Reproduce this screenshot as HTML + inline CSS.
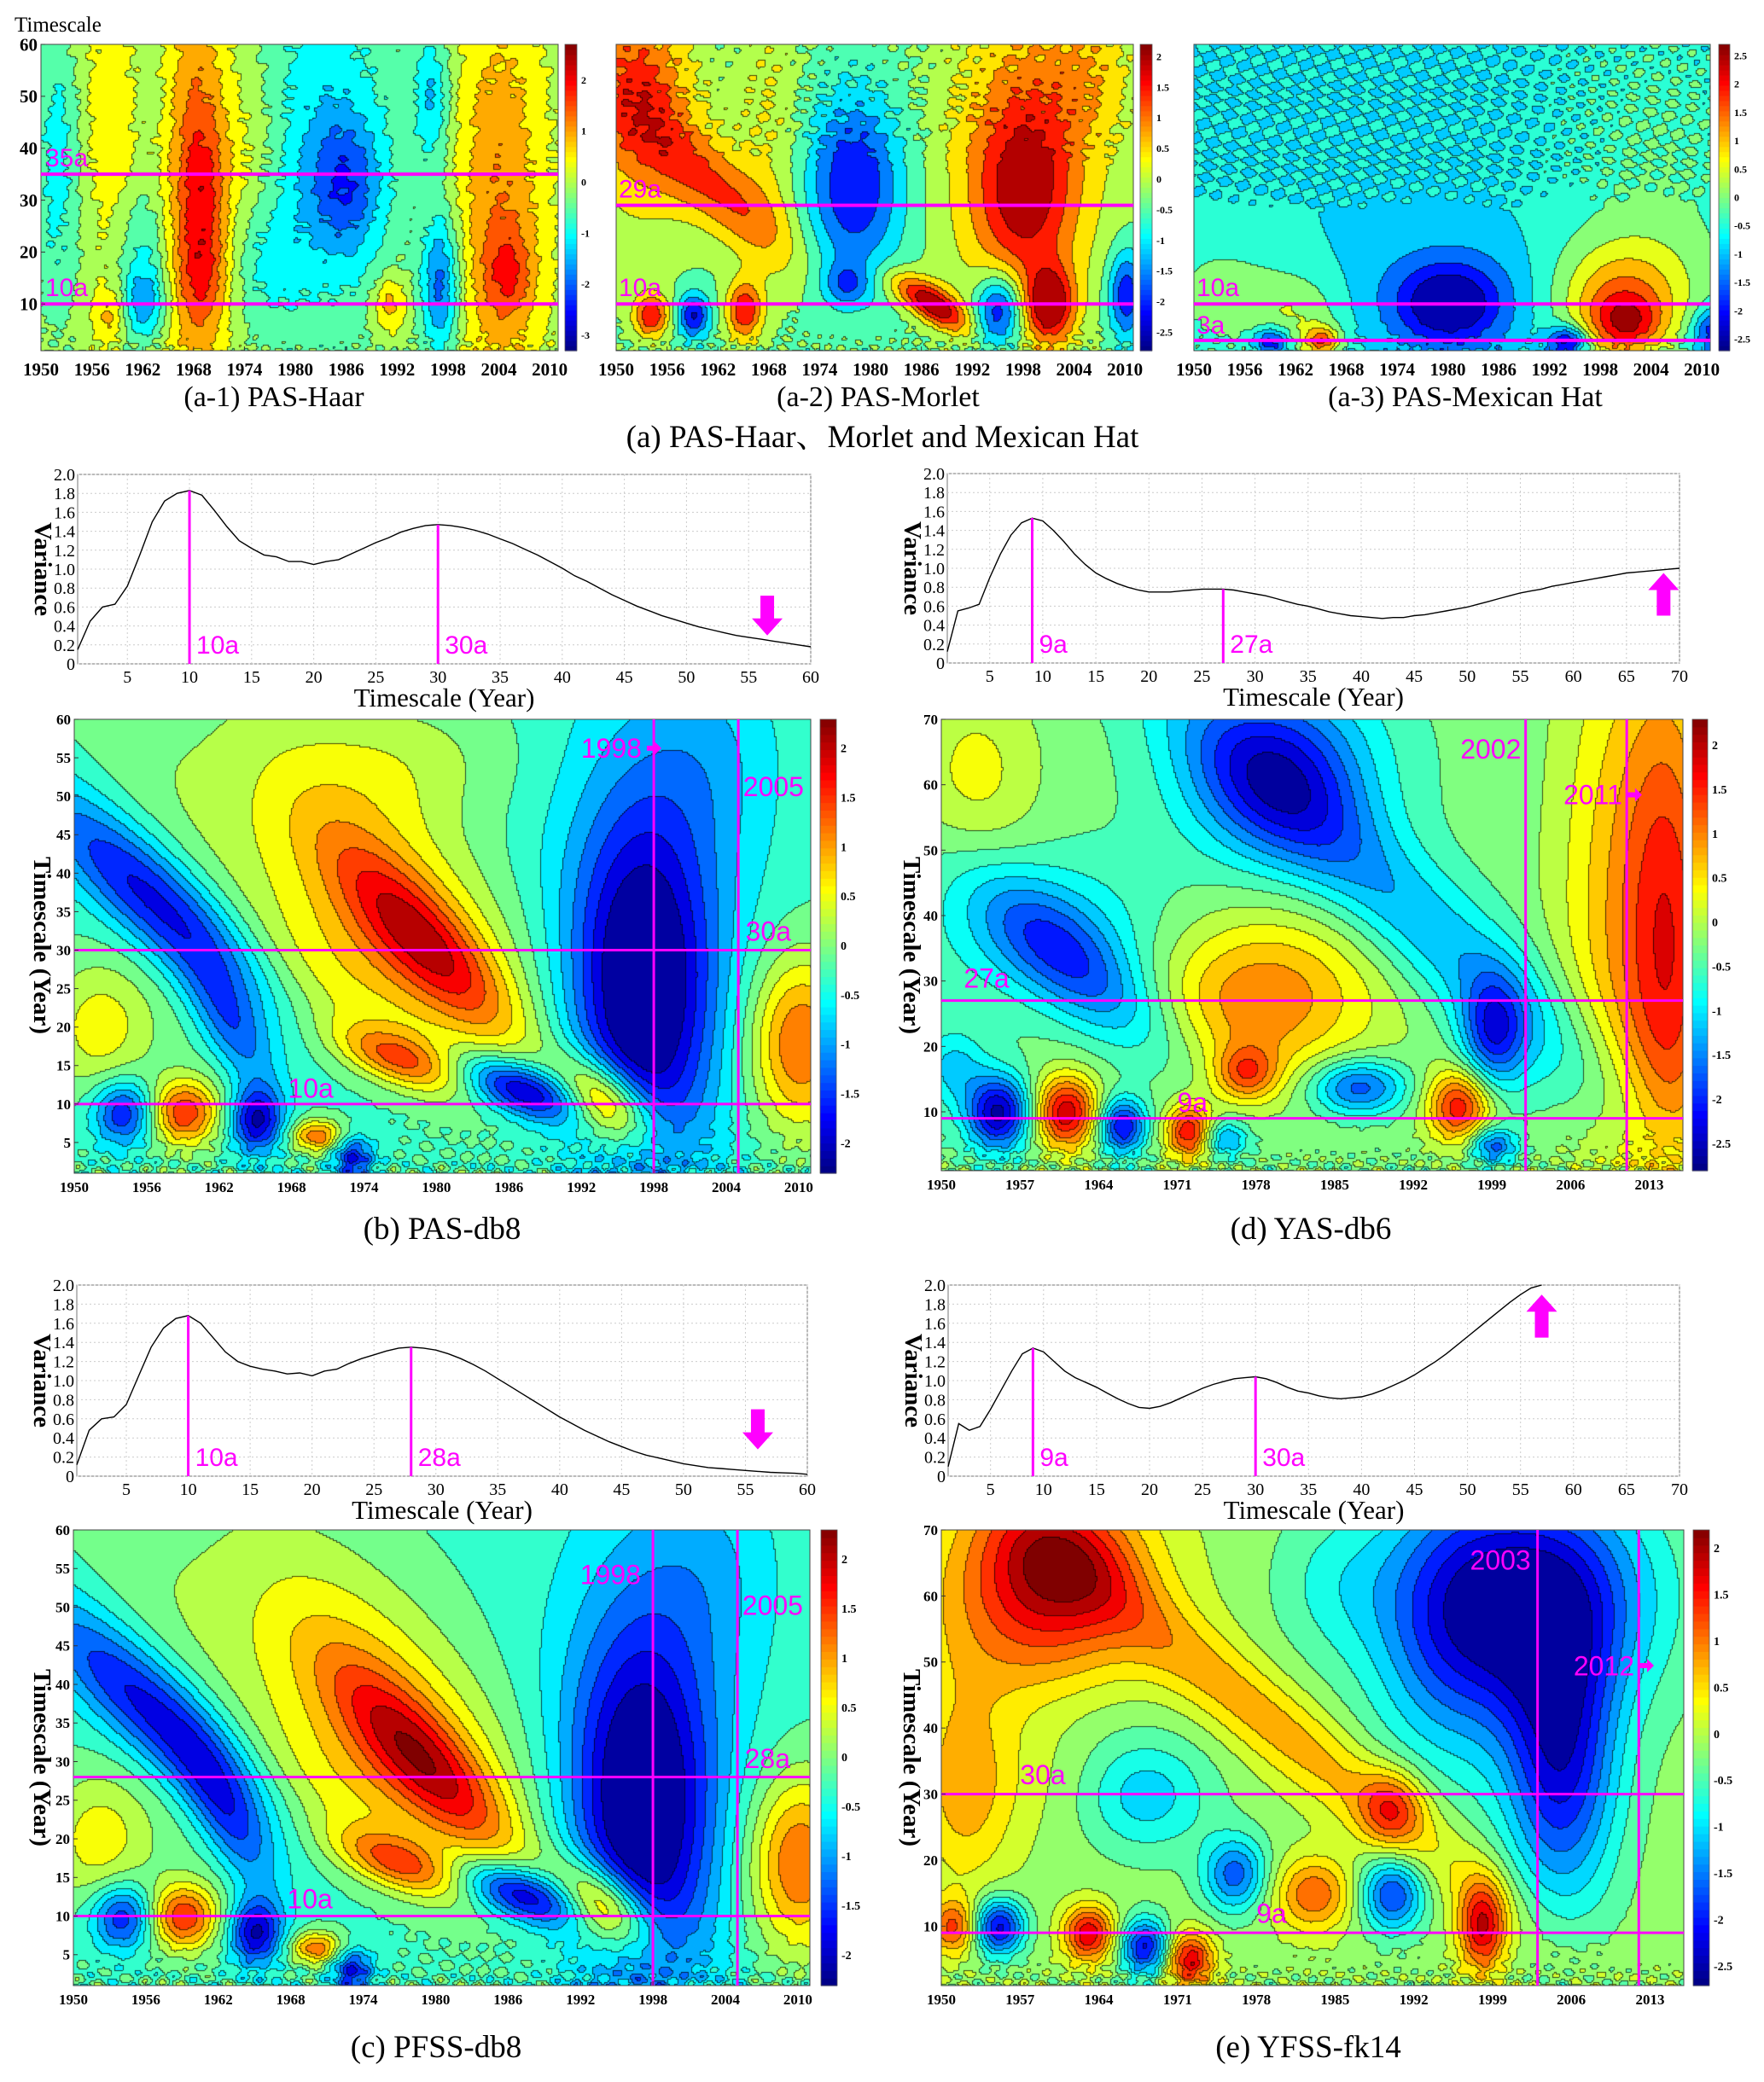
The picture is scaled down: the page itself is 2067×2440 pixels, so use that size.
<!DOCTYPE html>
<html><head><meta charset="utf-8">
<style>
html,body{margin:0;padding:0;background:#fff;}
#wrap{position:relative;width:2067px;height:2440px;overflow:hidden;background:#fff;}
canvas{position:absolute;display:block;}
svg{position:absolute;left:0;top:0;}
</style></head>
<body>
<div id="wrap">
<svg id="svg" width="2067" height="2440"></svg>
</div>
<script>
// ---------- DATA ----------
// blobs: [year, scale, sigmaYear, sigmaScale, amplitude, shear(year per scale)]
const blobsA1=[[1968,35,3,40,1.3,0],[1969,30,2,13,1.0,0],[1969,15,2,6,0.6,0],[1986,33,3,9,-1.3,0],[1983,40,6,25,-1.1,0],[1997,14,1.6,10,-1.9,0],[1996,50,1.5,9,-1.2,0],[2004,30,4,30,1.3,0],[2005,16,2,6,1.0,0],[1958,45,3,20,0.7,0],[1952,30,2,14,-0.8,0],[1962,10,2,5,-1.5,0],[1958,8,1.5,4,1.0,0],[1991,10,1.5,4,1.2,0],[1975,35,3,15,0.7,0],[1962,22,2,8,-0.9,0],[1976,20,3,10,-0.8,0],[1952,50,2,10,-0.5,0],[1963,50,2,10,-0.3,0]];
const blobsA2=[[1953,45,5,15,1.2,0],[1962,32,4,10,1.5,-0.5],[1978,33,4,12,-1.9,0],[1998,32,4,12,1.5,0],[1998,40,7,25,1.2,0],[2001,10,2,5,2.3,0],[1995,9,2,5,-2.2,0],[1954,8,1.5,3,2.0,0],[1959,8,1.3,3,-2.0,0],[1965,9,1.5,4,2.0,0],[1988,9,2,3,1.9,-0.5],[1985,13,2.5,3,1.2,-0.5],[1977,14,2,3,-1.2,0],[2010,12,1.5,6,-1.9,0],[1968,45,3,20,0.6,0],[1952,55,4,10,0.8,0],[2006,55,4,10,0.6,0]];
const blobsA3=[[1980,10,4,5,-1.6,0],[1980,12,7,8,-0.8,0],[2001,6,3,4,1.5,0],[2000,10,5,7,1.3,0],[2002,14,7,9,0.8,0],[1965,3,1.5,2,2.0,0],[1962,8,4,6,0.9,0],[1953,12,5,8,0.7,0],[1959,3,1.5,2,-1.8,0],[1994,3,1.6,2,-2.1,0],[2011,5,1.5,3,-1.6,0],[2005,40,8,20,0.5,0]];
const blobsB=[[1957,36,3.5,11,-1.6,-0.6],[1979,31,3,9,1.3,-0.5],[1976,38,6,16,1.0,-0.4],[1997,25,4,16,-1.9,0],[1997,32,6,25,-0.6,0],[2010,18,3,8,1.6,0],[1959,9,2,3,1.8,0],[1954,9,1.8,3,-1.5,0],[1965,8,1.5,3,-1.8,0],[1963,20,2,6,-1.1,-0.3],[1977,16,3,3,1.4,-0.7],[1987,12,3,3,-2.0,-0.7],[1994,10,2.5,4,2.2,-0.3],[1970,6,1.5,1.5,1.5,0],[1973,3,1.2,2,-1.5,0],[1952,20,3,6,0.8,0],[1962,45,5,14,0.3,-0.5],[1978,55,6,6,0.4,0],[1970,25,8,8,0.5,0],[2003,55,4,10,-0.4,0]];
const blobsC=[[1957,36,3.5,11,-1.6,-0.6],[1979,30,3,9,1.4,-0.5],[1976,38,6,16,1.0,-0.4],[1997,24,4,16,-1.9,0],[1997,32,6,25,-0.6,0],[2010,17,3,8,1.6,0],[1959,10,2,3,1.8,0],[1954,10,1.8,3,-1.5,0],[1965,8,1.5,3,-1.8,0],[1963,22,2,7,-1.1,-0.3],[1977,17,3,3,1.4,-0.7],[1987,13,3,3,-2.0,-0.7],[1994,11,2.5,4,2.2,-0.3],[1970,6,1.5,1.5,1.5,0],[1973,3,1.2,2,-1.5,0],[1952,20,3,6,0.8,0],[1962,45,5,14,0.3,-0.5],[1970,25,8,8,0.5,0],[2003,55,4,10,-0.4,0]];
const blobsD=[[1980,62,6,10,-1.7,0],[1992,40,5,25,-1.1,-0.6],[1999,22,2,6,-1.5,0],[2015,35,3,30,1.6,0],[2010,40,4,35,0.9,0],[1953,62,4,10,0.6,0],[1962,32,4,10,-1.3,-0.5],[1960,38,8,8,-0.7,0],[1978,27,6,8,0.9,0],[1980,30,10,12,0.5,0],[1977,16,2,3,1.3,0],[1955,10,2,4,-2.3,0],[1961,10,2,4,2.2,0],[1966,8,1.5,3,-2.0,0],[1972,7,1.5,3,2.0,0],[1975,6,1.5,2,-1.2,0],[1987,14,3,3,-1.6,0],[1996,11,2,4,1.9,0],[1999,5,1.5,2,-1.5,0],[1951,17,2,4,-0.8,0]];
const blobsE=[[1960,65,5,8,1.5,0],[1958,55,8,15,1.0,0],[1980,40,4,20,0.9,-0.7],[1990,28,2,4,1.2,0],[2003,60,7,12,-2.2,0],[2005,35,3.5,15,-2.0,0],[1995,55,5,15,-1.2,0],[1985,62,4,8,-0.5,0],[1968,30,4,6,-1.0,0],[1962,42,6,6,-0.4,0],[1952,30,3,10,0.8,0],[1951,10,1.5,3,1.4,0],[1955,10,1.6,3,-2.1,0],[1963,9,1.6,3,1.9,0],[1968,7,1.5,3,-2.0,0],[1972,5,1.5,3,1.9,0],[1976,18,2,4,-1.5,0],[1983,15,2.5,4,1.3,0],[1990,15,2,4,-1.7,0],[1998,10,1.5,5,1.9,0]];

const varB=[0.15,0.45,0.6,0.63,0.82,1.15,1.5,1.72,1.8,1.83,1.78,1.62,1.45,1.3,1.22,1.15,1.13,1.08,1.08,1.05,1.08,1.1,1.16,1.22,1.28,1.33,1.39,1.43,1.46,1.47,1.46,1.44,1.41,1.37,1.32,1.27,1.21,1.15,1.08,1.01,0.93,0.87,0.8,0.73,0.67,0.61,0.56,0.51,0.47,0.43,0.39,0.36,0.33,0.3,0.28,0.26,0.24,0.22,0.2,0.18];
const varC=[0.12,0.48,0.6,0.62,0.75,1.05,1.35,1.55,1.65,1.68,1.6,1.45,1.3,1.2,1.15,1.12,1.1,1.07,1.08,1.05,1.1,1.12,1.18,1.23,1.27,1.31,1.34,1.35,1.34,1.32,1.28,1.23,1.17,1.1,1.02,0.94,0.86,0.78,0.7,0.62,0.55,0.48,0.42,0.36,0.31,0.26,0.22,0.19,0.16,0.13,0.11,0.09,0.08,0.07,0.06,0.05,0.04,0.035,0.03,0.02];
const varD=[0.12,0.55,0.58,0.62,0.9,1.15,1.35,1.48,1.53,1.5,1.4,1.28,1.15,1.04,0.95,0.89,0.84,0.8,0.77,0.75,0.75,0.75,0.76,0.77,0.78,0.78,0.78,0.77,0.75,0.73,0.71,0.68,0.65,0.62,0.6,0.57,0.54,0.52,0.5,0.49,0.48,0.47,0.48,0.48,0.5,0.51,0.53,0.55,0.57,0.59,0.62,0.65,0.68,0.71,0.74,0.76,0.78,0.81,0.83,0.85,0.87,0.89,0.91,0.93,0.95,0.96,0.97,0.98,0.99,1.0];
const varE=[0.1,0.55,0.48,0.52,0.7,0.9,1.1,1.28,1.34,1.3,1.2,1.1,1.03,0.98,0.93,0.87,0.81,0.76,0.72,0.71,0.73,0.77,0.82,0.87,0.92,0.96,0.99,1.02,1.03,1.04,1.02,0.98,0.93,0.89,0.87,0.84,0.82,0.81,0.82,0.83,0.86,0.9,0.95,1.0,1.06,1.13,1.2,1.28,1.37,1.46,1.55,1.64,1.73,1.82,1.9,1.97,2.02];

const cbTicksA1=[2,1,0,-1,-2,-3];
const cbTicksA2=[2,1.5,1,0.5,0,-0.5,-1,-1.5,-2,-2.5];
const cbTicksA3=[2.5,2,1.5,1,0.5,0,-0.5,-1,-1.5,-2,-2.5];
const cbTicksBC=[2,1.5,1,0.5,0,-0.5,-1,-1.5,-2];
const cbTicksDE=[2,1.5,1,0.5,0,-0.5,-1,-1.5,-2,-2.5];
const yearTicks6=[1950,1956,1962,1968,1974,1980,1986,1992,1998,2004,2010];
const yearTicks7=[1950,1957,1964,1971,1978,1985,1992,1999,2006,2013];
const scaleTicks5=[5,10,15,20,25,30,35,40,45,50,55,60];
const scaleTicks10=[10,20,30,40,50,60,70];
const varTicks=[0,0.2,0.4,0.6,0.8,1.0,1.2,1.4,1.6,1.8,2.0];
const varTickLabels=["0","0.2","0.4","0.6","0.8","1.0","1.2","1.4","1.6","1.8","2.0"];

// ---------- HELPERS ----------
const NS="http://www.w3.org/2000/svg";
const svg=document.getElementById('svg');
const wrap=document.getElementById('wrap');
function mk(tag,attrs,parent){const e=document.createElementNS(NS,tag);for(const k in attrs)e.setAttribute(k,attrs[k]);(parent||svg).appendChild(e);return e;}
function txt(s,x,y,size,opts,parent){opts=opts||{};const e=mk('text',{x:x,y:y,'font-size':size,'font-family':opts.ff||'"Liberation Serif", "Noto Serif CJK SC", serif','text-anchor':opts.anchor||'start',fill:opts.fill||'#000','font-weight':opts.bold?'bold':'normal'},parent);if(opts.rot)e.setAttribute('transform','rotate('+opts.rot+' '+x+' '+y+')');e.textContent=s;return e;}
function jet(t){t=Math.max(0,Math.min(1,t));const c=v=>Math.round(255*Math.max(0,Math.min(1,v)));return [c(1.5-Math.abs(4*t-3)),c(1.5-Math.abs(4*t-2)),c(1.5-Math.abs(4*t-1))];}
const MAG='#ff00ff';

function drawHeat(p){
  const cv=document.createElement('canvas');
  cv.width=p.w;cv.height=p.h;cv.style.left=p.x+'px';cv.style.top=p.y+'px';
  
  
  wrap.insertBefore(cv,svg);
  const ctx=cv.getContext('2d');const img=ctx.createImageData(p.w,p.h);const d=img.data;
  const G=2,gw=Math.ceil(p.w/G)+1,gh=Math.ceil(p.h/G)+1;const L=new Int16Array(gw*gh);
  const nL=Math.ceil((p.vmax-p.vmin)/p.step);
  for(let j=0;j<gh;j++){const s=p.s1-(j*G)/p.h*(p.s1-p.s0);
    for(let i=0;i<gw;i++){const y=p.y0+(i*G)/p.w*(p.y1-p.y0);
      let v=p.base;
      for(const b of p.blobs){const ds=(s-b[1])/b[3];const dy=((y-b[0])-b[5]*(s-b[1]))/b[2];v+=b[4]*Math.exp(-0.5*(dy*dy+ds*ds));}
      v+=p.tLow*Math.exp(-(s-1)/2.5)*Math.sin(y*2.3+s*1.1)*Math.cos(y*1.3-s*2.0+Math.sin(y*0.7));
      const hw=Math.max(0,Math.min(1,(s-p.sMid)/8));
      v+=p.tHigh*hw*Math.sin(y*1.7+s*0.9+Math.sin(s*0.5))*Math.sin(y*0.9-s*1.5);
      let l=Math.floor((v-p.vmin)/p.step);l=Math.max(0,Math.min(nL-1,l));L[j*gw+i]=l;}}
  for(let py=0;py<p.h;py++){const j=Math.floor(py/G);
    for(let px=0;px<p.w;px++){const i=Math.floor(px/G);const l=L[j*gw+i];
      let col=jet((l+0.5)*p.step/(p.vmax-p.vmin));
      const edge=(px%G===0&&i>0&&L[j*gw+i-1]!==l)||(py%G===0&&j>0&&L[(j-1)*gw+i]!==l);
      const o=(py*p.w+px)*4;
      if(edge){d[o]=col[0]*0.3;d[o+1]=col[1]*0.3;d[o+2]=col[2]*0.3;}else{d[o]=col[0];d[o+1]=col[1];d[o+2]=col[2];}
      d[o+3]=255;}}
  ctx.putImageData(img,0,0);
}
function contourPanel(p){
  drawHeat(p);
  const g=mk('g',{});
  
  
  const X=y=>p.x+(y-p.y0)/(p.y1-p.y0)*p.w;
  const Y=s=>p.y+(p.s1-s)/(p.s1-p.s0)*p.h;
  const fr=mk('rect',{x:p.x,y:p.y,width:p.w,height:p.h,fill:'none',stroke:'#444','stroke-width':1},g);
  
  
  for(const s of p.hlines){const l=mk('line',{x1:p.x,x2:p.x+p.w,y1:Y(s),y2:Y(s),stroke:MAG,'stroke-width':p.lw},g);
    
    }
  for(const yv of p.vlines){const l=mk('line',{x1:X(yv),x2:X(yv),y1:p.y,y2:p.y+p.h,stroke:MAG,'stroke-width':p.lw},g);
    
    }
  for(const lb of p.labels){const t=txt(lb[0],X(lb[1]),Y(lb[2]),p.lsize,{fill:MAG,ff:'"Liberation Sans", sans-serif',anchor:lb[3]||'start'},g);
    
    
    if(lb[4]){const ax=X(lb[1])+(lb[3]==='end'?6:t.getComputedTextLength()+6);const ay=Y(lb[2])-p.lsize*0.35;
      const ar=mk('polygon',{points:`${ax},${ay-3} ${ax+9},${ay-3} ${ax+9},${ay-8} ${ax+17},${ay} ${ax+9},${ay+8} ${ax+9},${ay+3} ${ax},${ay+3}`,fill:MAG},g);
      
      }}
  if(p.yTicks){for(const s of p.yTicks){mk('line',{x1:p.x,x2:p.x+5,y1:Y(s),y2:Y(s),stroke:'#333'},g);
    const t=txt(String(s),p.x-4,Y(s)+p.tsize*0.35,p.tsize,{anchor:'end',bold:true},g);
    
    }}
  for(const yv of p.xTicks){mk('line',{x1:X(yv),x2:X(yv),y1:p.y+p.h,y2:p.y+p.h-5,stroke:'#333'},g);
    const t=txt(String(yv),X(yv),p.y+p.h+p.xoff,p.xsize,{anchor:'middle',bold:true},g);
    
    }
  const cb=mk('g',{},g);
  
  
  const n=60;for(let k=0;k<n;k++){const c=jet((k+0.5)/n);mk('rect',{x:p.cbx,y:p.y+p.h-(k+1)*p.h/n,width:p.cbw,height:p.h/n+0.6,fill:`rgb(${c[0]},${c[1]},${c[2]})`},cb);}
  mk('rect',{x:p.cbx,y:p.y,width:p.cbw,height:p.h,fill:'none',stroke:'#555','stroke-width':0.8},cb);
  for(const v of p.cbTicks){const yy=p.y+(p.vmax-v)/(p.vmax-p.vmin)*p.h;
    const t=txt(String(v),p.cbx+p.cbw+5,yy+4,p.cbsize,{bold:true},cb);
    
    }
}
function variancePanel(p){
  const g=mk('g',{});
  
  
  const X=v=>p.x+(v-1)/(p.xmax-1)*p.w;
  const Y=v=>p.y+(2-v)/2*p.h;
  mk('rect',{x:p.x,y:p.y,width:p.w,height:p.h,fill:'#fff',stroke:'#777','stroke-width':1},g);
  for(const v of p.xTicks){mk('line',{x1:X(v),x2:X(v),y1:p.y,y2:p.y+p.h,stroke:'#ccc','stroke-dasharray':'2,3'},g);
    const t=txt(String(v),X(v),p.y+p.h+22,20,{anchor:'middle'},g);
    
    }
  varTicks.forEach((v,i)=>{mk('line',{x1:p.x,x2:p.x+p.w,y1:Y(v),y2:Y(v),stroke:'#ccc','stroke-dasharray':'2,3'},g);
    const t=txt(varTickLabels[i],p.x-3,Y(v)+7,20,{anchor:'end'},g);
    
    });
  const pts=p.data.map((v,i)=>X(i+1).toFixed(1)+','+Y(Math.min(v,2)).toFixed(1)).join(' ');
  const pl=mk('polyline',{points:pts,fill:'none',stroke:'#000','stroke-width':1.4},g);
  
  
  for(const pk of p.peaks){const l=mk('line',{x1:X(pk),x2:X(pk),y1:Y(p.data[pk-1]),y2:p.y+p.h,stroke:MAG,'stroke-width':3},g);
    
    
    const t=txt(pk+'a',X(pk)+8,p.y+p.h-12,30,{fill:MAG,ff:'"Liberation Sans", sans-serif'},g);
    
    }
  const ax=X(p.arrow[0]),a1=Y(p.arrow[1]),a2=Y(p.arrow[2]);const dir=a2>a1?1:-1;const hh=20*dir;
  const ar=mk('polygon',{points:`${ax-8},${a1} ${ax+8},${a1} ${ax+8},${a2-hh} ${ax+18},${a2-hh} ${ax},${a2} ${ax-18},${a2-hh} ${ax-8},${a2-hh}`,fill:MAG},g);
  
  
  const xl=txt('Timescale (Year)',p.x+p.w/2,p.y+p.h+50,31,{anchor:'middle'},g);
  
  
  const yl=txt('Variance',p.x-50,p.y+p.h/2,29,{anchor:'middle',rot:90,bold:true},g);
  
  
}

// ---------- PANELS ----------
const aCommon={y:52,h:359,y0:1950,y1:2011,s0:1,s1:60,step:0.5,xTicks:yearTicks6,xsize:21,xoff:29,tsize:21,lsize:30,lw:4,cbsize:12,sMid:100};
contourPanel(Object.assign({},aCommon,{name:'panel-a1-haar',x:48,w:606,cbx:662,cbw:14,vmin:-3.3,vmax:2.7,base:-0.15,blobs:blobsA1,tLow:0.5,tHigh:0.15,sMid:5,yTicks:[10,20,30,40,50,60],hlines:[35,10],vlines:[],labels:[['35a',1950.5,36.5],['10a',1950.5,11.5]],cbTicks:cbTicksA1}));
contourPanel(Object.assign({},aCommon,{name:'panel-a2-morlet',x:722,w:606,cbx:1336,cbw:14,vmin:-2.8,vmax:2.2,base:-0.4,blobs:blobsA2,tLow:0.6,tHigh:0.25,sMid:35,yTicks:null,hlines:[29,10],vlines:[],labels:[['29a',1950.3,30.5],['10a',1950.3,11.5]],cbTicks:cbTicksA2}));
contourPanel(Object.assign({},aCommon,{name:'panel-a3-mexican-hat',x:1399,w:605,cbx:2014,cbw:13,vmin:-2.7,vmax:2.7,base:-0.7,blobs:blobsA3,tLow:0.4,tHigh:0.4,sMid:28,yTicks:null,hlines:[10,3],vlines:[],labels:[['10a',1950.3,11.5],['3a',1950.3,4.3]],cbTicks:cbTicksA3}));

const dbA={y0:1950,y1:2011,s0:1,s1:60,step:0.3,xTicks:yearTicks6,yTicks:scaleTicks5,xsize:17,xoff:22,tsize:17,lsize:32,lw:3,cbsize:14,vmin:-2.3,vmax:2.3,tLow:0.6,tHigh:0,sMid:100};
contourPanel(Object.assign({},dbA,{name:'panel-b-pas-db8',x:87,y:843,w:863,h:532,cbx:961,cbw:19,base:-0.25,blobs:blobsB,hlines:[30,10],vlines:[1998,2005],labels:[['1998',1997,55,'end',true],['2005',2005.4,50],['30a',2005.6,31.2],['10a',1967.7,10.8]],cbTicks:cbTicksBC}));
contourPanel(Object.assign({},dbA,{name:'panel-c-pfss-db8',x:86,y:1793,w:863,h:534,cbx:962,cbw:19,base:-0.25,blobs:blobsC,hlines:[28,10],vlines:[1998,2005],labels:[['1998',1997,53,'end'],['2005',2005.4,49],['28a',2005.6,29.2],['10a',1967.7,11]],cbTicks:cbTicksBC}));
const dbD={y0:1950,y1:2016,s0:1,s1:70,step:0.3,xTicks:yearTicks7,yTicks:scaleTicks10,xsize:17,xoff:22,tsize:17,lsize:32,lw:3,cbsize:14,tLow:0.6,tHigh:0,sMid:100};
contourPanel(Object.assign({},dbD,{name:'panel-d-yas-db6',x:1103,y:843,w:869,h:529,cbx:1983,cbw:18,vmin:-2.8,vmax:2.3,base:-0.3,blobs:blobsD,hlines:[27,9],vlines:[2002,2011],labels:[['2002',2001.6,64,'end'],['2011',2010.6,57,'end',true],['27a',1952,29],['9a',1971,10]],cbTicks:cbTicksDE}));
contourPanel(Object.assign({},dbD,{name:'panel-e-yfss-fk14',x:1103,y:1793,w:870,h:534,cbx:1984,cbw:19,vmin:-2.7,vmax:2.2,base:-0.15,blobs:blobsE,hlines:[30,9],vlines:[2003,2012],labels:[['2003',2002.4,64,'end'],['2012',2011.6,48,'end',true],['30a',1957,31.5],['9a',1978,10.5]],cbTicks:cbTicksDE}));

variancePanel({name:'variance-b',x:91,y:556,w:859,h:222,xmax:60,data:varB,xTicks:[5,10,15,20,25,30,35,40,45,50,55,60],peaks:[10,30],arrow:[56.5,0.72,0.3]});
variancePanel({name:'variance-d',x:1110,y:555,w:858,h:222,xmax:70,data:varD,xTicks:[5,10,15,20,25,30,35,40,45,50,55,60,65,70],peaks:[9,27],arrow:[68.5,0.5,0.95]});
variancePanel({name:'variance-c',x:90,y:1506,w:856,h:224,xmax:60,data:varC,xTicks:[5,10,15,20,25,30,35,40,45,50,55,60],peaks:[10,28],arrow:[56,0.7,0.28]});
variancePanel({name:'variance-e',x:1111,y:1506,w:857,h:224,xmax:70,data:varE,xTicks:[5,10,15,20,25,30,35,40,45,50,55,60,65,70],peaks:[9,30],arrow:[57,1.45,1.9]});

// ---------- TEXT ----------
const caps=[['Timescale',17,37,25,'start','timescale-label'],
['(a-1) PAS-Haar',321,476,34,'middle','caption-a1'],['(a-2) PAS-Morlet',1029,476,34,'middle','caption-a2'],['(a-3) PAS-Mexican Hat',1717,476,34,'middle','caption-a3'],
['(a) PAS-Haar、Morlet and Mexican Hat',1034,524,37,'middle','caption-a'],
['(b) PAS-db8',518,1452,37,'middle','caption-b'],['(d) YAS-db6',1536,1452,37,'middle','caption-d'],
['(c) PFSS-db8',511,2411,37,'middle','caption-c'],['(e) YFSS-fk14',1533,2411,37,'middle','caption-e']];
for(const c of caps){const t=txt(c[0],c[1],c[2],c[3],{anchor:c[4]});
  
  }
for(const yc of [[40,1108],[1059,1108],[40,2060],[1059,2060]]){const t=txt('Timescale (Year)',yc[0],yc[1],29,{anchor:'middle',rot:90,bold:true});
  
  }
</script>
</body></html>
